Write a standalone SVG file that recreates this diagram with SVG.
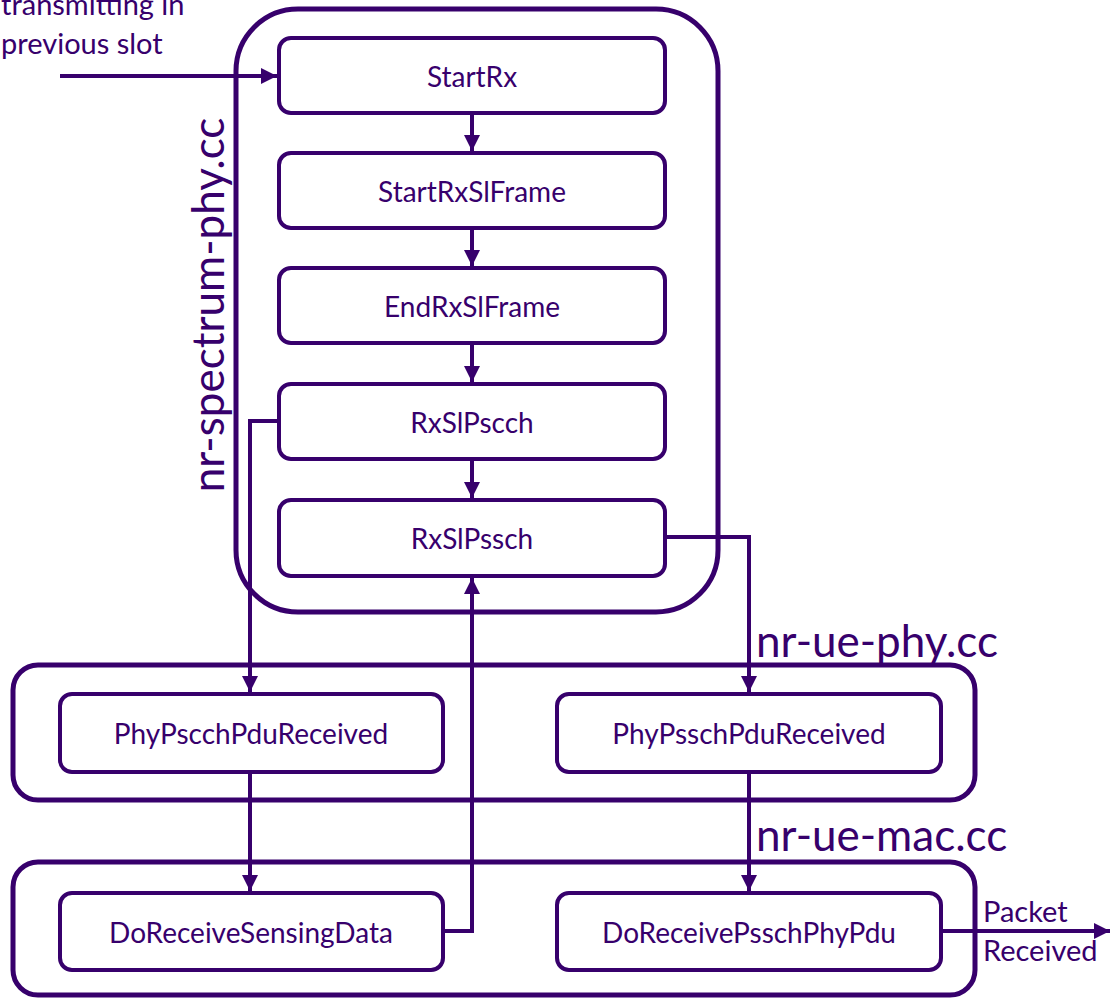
<svg xmlns="http://www.w3.org/2000/svg" width="1111" height="998" viewBox="0 0 1111 998">
<style>
.grp{fill:none;stroke:#37006c;stroke-width:5}
.box{fill:#fff;stroke:#37006c;stroke-width:4}
.lbl{font-family:Lato,"Liberation Sans",sans-serif;font-size:28px;fill:#37006c;text-anchor:middle;dominant-baseline:central}
.big{font-family:Lato,"Liberation Sans",sans-serif;font-size:44px;fill:#37006c}
.side{font-family:Lato,"Liberation Sans",sans-serif;font-size:29px;fill:#37006c}
.con{fill:none;stroke:#37006c;stroke-width:4}
</style>
<defs>
<marker id="ah" viewBox="0 0 10 10" refX="10" refY="5" markerWidth="4" markerHeight="4" orient="auto" markerUnits="strokeWidth">
<path d="M0,0 L10,5 L0,10 z" fill="#37006c"/>
</marker>
</defs>
<g id="spectrum-phy">
<rect class="grp" x="236" y="9" width="482" height="603" rx="62"/>
<text class="big" transform="translate(224,305) rotate(-90)" text-anchor="middle">nr-spectrum-phy.cc</text>
</g>
<g id="ue-phy">
<rect class="grp" x="13" y="665" width="962" height="135" rx="25"/>
<text class="big" x="756" y="657">nr-ue-phy.cc</text>
</g>
<g id="ue-mac">
<rect class="grp" x="13" y="862" width="962" height="133" rx="25"/>
<text class="big" x="756" y="851">nr-ue-mac.cc</text>
</g>
<g id="connectors">
<path class="con" d="M60,76 H277" marker-end="url(#ah)"/>
<path class="con" d="M472,113 V151" marker-end="url(#ah)"/>
<path class="con" d="M472,228 V266" marker-end="url(#ah)"/>
<path class="con" d="M472,343 V382" marker-end="url(#ah)"/>
<path class="con" d="M472,459 V498" marker-end="url(#ah)"/>
<path class="con" d="M279,421 H250 V692" marker-end="url(#ah)"/>
<path class="con" d="M665,537 H749 V692" marker-end="url(#ah)"/>
<path class="con" d="M250,772 V891" marker-end="url(#ah)"/>
<path class="con" d="M749,772 V891" marker-end="url(#ah)"/>
<path class="con" d="M443,931 H472 V578" marker-end="url(#ah)"/>
<path class="con" d="M941,931 H1110" marker-end="url(#ah)"/>
</g>
<g id="n-startrx"><rect class="box" x="279" y="38" width="386" height="75" rx="12"/><text class="lbl" x="472" y="76">StartRx</text></g>
<g id="n-startrxslframe"><rect class="box" x="279" y="153" width="386" height="75" rx="12"/><text class="lbl" x="472" y="191">StartRxSlFrame</text></g>
<g id="n-endrxslframe"><rect class="box" x="279" y="268" width="386" height="75" rx="12"/><text class="lbl" x="472" y="306">EndRxSlFrame</text></g>
<g id="n-rxslpscch"><rect class="box" x="279" y="384" width="386" height="75" rx="12"/><text class="lbl" x="472" y="422">RxSlPscch</text></g>
<g id="n-rxslpssch"><rect class="box" x="279" y="500" width="386" height="76" rx="12"/><text class="lbl" x="472" y="538">RxSlPssch</text></g>
<g id="n-phypscch"><rect class="box" x="60" y="694" width="383" height="78" rx="12"/><text class="lbl" x="251" y="733">PhyPscchPduReceived</text></g>
<g id="n-phypssch"><rect class="box" x="557" y="694" width="384" height="78" rx="12"/><text class="lbl" x="749" y="733">PhyPsschPduReceived</text></g>
<g id="n-dorecsensing"><rect class="box" x="60" y="893" width="383" height="77" rx="12"/><text class="lbl" x="251" y="932">DoReceiveSensingData</text></g>
<g id="n-dorecpssch"><rect class="box" x="557" y="893" width="384" height="77" rx="12"/><text class="lbl" x="749" y="932">DoReceivePsschPhyPdu</text></g>
<g id="labels">
<text class="side" x="1" y="15">transmitting in</text>
<text class="side" x="1" y="54">previous slot</text>
<text class="side" x="983" y="922">Packet</text>
<text class="side" x="983" y="961">Received</text>
</g>
</svg>
